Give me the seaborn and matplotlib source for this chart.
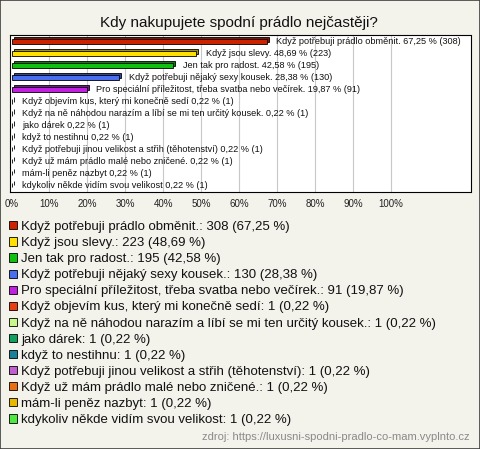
import numpy as np
import pandas as pd
import matplotlib
matplotlib.use("Agg")
import matplotlib.pyplot as plt
from matplotlib.patches import Patch, Rectangle
from matplotlib.transforms import ScaledTranslation
import matplotlib.colors as mcolors
import seaborn as sns

title = "Kdy nakupujete spodní prádlo nejčastěji?"
names = [
    "Když potřebuji prádlo obměnit.",
    "Když jsou slevy.",
    "Jen tak pro radost.",
    "Když potřebuji nějaký sexy kousek.",
    "Pro speciální příležitost, třeba svatba nebo večírek.",
    "Když objevím kus, který mi konečně sedí",
    "Když na ně náhodou narazím a líbí se mi ten určitý kousek.",
    "jako dárek",
    "když to nestihnu",
    "Když potřebuji jinou velikost a střih (těhotenství)",
    "Když už mám prádlo malé nebo zničené.",
    "mám-li peněz nazbyt",
    "kdykoliv někde vidím svou velikost",
]
counts = [308, 223, 195, 130, 91, 1, 1, 1, 1, 1, 1, 1, 1]
pcts = [67.25, 48.69, 42.58, 28.38, 19.87, 0.22, 0.22, 0.22, 0.22, 0.22, 0.22, 0.22, 0.22]
colors = ["#cc2200", "#ffe000", "#10c010", "#4a6ef0", "#c020e0", "#e84010",
          "#c8f88a", "#10a060", "#1a8098", "#c060d0", "#e87010", "#e8b800", "#50e840"]
xticks = [0, 10, 20, 30, 40, 50, 60, 70, 80, 90, 100]
source = "zdroj: https://luxusni-spodni-pradlo-co-mam.vyplnto.cz"

def fmt(v):
    return f"{v:.2f}".replace(".", ",")

df = pd.DataFrame({"name": names, "pct": pcts, "count": counts})

sns.set_theme(style="white")
plt.rcParams["font.family"] = ["Liberation Sans", "DejaVu Sans"]

W, H, DPI = 480, 449, 100
fig = plt.figure(figsize=(W / DPI, H / DPI), dpi=DPI)
bg = "#f3f2eb"
fig.patch.set_facecolor(bg)

ax = fig.add_axes([10 / W, 1 - 192 / H, 460.5 / W, 157 / H])
ax.set_facecolor("white")

dark = [tuple(np.array(mcolors.to_rgb(c)) * 0.65) for c in colors]
pal_dark = dict(zip(names, dark))
pal = dict(zip(names, colors))

# back (3D side) bars
sns.barplot(data=df, x="pct", y="name", hue="name", palette=pal_dark, width=0.38,
            edgecolor="black", linewidth=0.6, legend=False, ax=ax, saturation=1,
            errorbar=None)
off = ScaledTranslation(2 / DPI, 2 / DPI, fig.dpi_scale_trans)
for p in list(ax.patches):
    p.set_transform(ax.transData + off)
    p.set_zorder(2)
n_back = len(ax.patches)
# front bars
sns.barplot(data=df, x="pct", y="name", hue="name", palette=pal, width=0.38,
            edgecolor="black", linewidth=0.6, legend=False, ax=ax, saturation=1,
            errorbar=None)
for p in ax.patches[n_back:]:
    p.set_zorder(3)

lab_off = ScaledTranslation(9.5 / DPI, 0, fig.dpi_scale_trans)
for i, (nm, v, c) in enumerate(zip(names, pcts, counts)):
    ax.text(v, i, f"{nm} {fmt(v)} % ({c})", transform=ax.transData + lab_off,
            va="center", ha="left", fontsize=6.6, color="#111111", zorder=4)

ax.set_xlim(-0.4, 121)
ax.set_ylim(12.58, -0.56)
ax.set_xticks(xticks)
ax.set_xticklabels([f"{t}%" for t in xticks])
ax.set_yticks([])
ax.set_xlabel("")
ax.set_ylabel("")
ax.grid(False)
for t in xticks[1:]:
    ax.axvline(t, color="#c8c8c8", lw=0.8, zorder=1)
ax.tick_params(axis="x", length=0, pad=5, labelsize=7, colors="#222222")
for s in ax.spines.values():
    s.set_visible(True)
    s.set_color("black")
    s.set_linewidth(0.8)

fig.text(239 / W, 1 - 27 / H, title, ha="center", va="baseline", fontsize=11, color="#111111")

handles = [Patch(facecolor=c, edgecolor="black", linewidth=0.6) for c in colors]
labels = [f"{nm}: {c} ({fmt(v)} %)" for nm, c, v in zip(names, counts, pcts)]
fig.legend(handles, labels, loc="upper left", bbox_to_anchor=(9 / W, 1 - 221 / H),
           frameon=False, fontsize=9.5, handlelength=0.58, handleheight=0.58,
           handletextpad=0.35, labelspacing=0.31, borderpad=0, borderaxespad=0,
           labelcolor="#111111")

fig.text(470 / W, 1 - 437 / H, source, ha="right", va="center", fontsize=8, color="#8a8a8a")

fig.patches.append(Rectangle((0, 0), 1, 1, transform=fig.transFigure, fill=False,
                             edgecolor="#404040", linewidth=1.2))

fig.savefig("out.png", dpi=DPI, facecolor=bg)
